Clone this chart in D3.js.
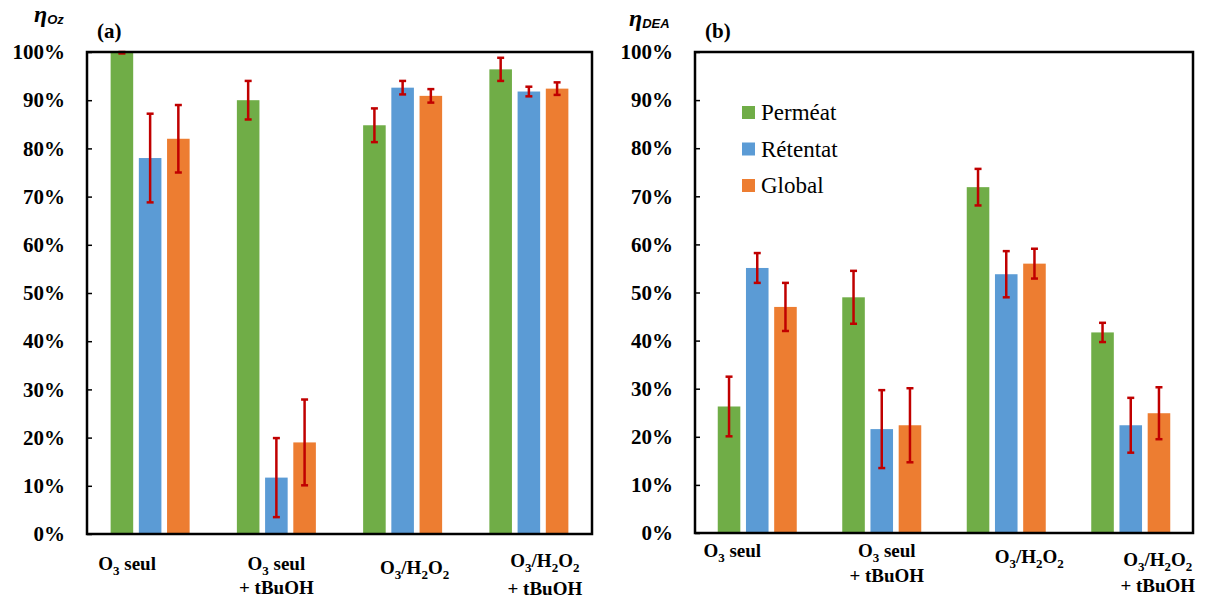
<!DOCTYPE html>
<html><head><meta charset="utf-8">
<script src="https://cdn.jsdelivr.net/npm/d3@7"></script>
<style>body{margin:0;background:#fff}svg{display:block}
.serif{font-family:"Liberation Serif","Times New Roman",Times,serif}
.sans{font-family:"Liberation Sans",Arial,sans-serif}
</style>
</head><body>
<svg id="chart" width="1205" height="601"></svg>
<script>
// ---- data ----
const categories = ["O3 seul", "O3 seul + tBuOH", "O3/H2O2", "O3/H2O2 + tBuOH"];
const categoryLabelLines = [["O_3 seul"], ["O_3 seul", "+ tBuOH"], ["O_3/H_2O_2"], ["O_3/H_2O_2", "+ tBuOH"]];
const seriesNames = ["Perméat", "Rétentat", "Global"];
const yTicks = [0, 10, 20, 30, 40, 50, 60, 70, 80, 90, 100];

// panel (a) eta_Oz (%)
const ozPermeat = [100, 90.0, 84.8, 96.4];
const ozRetentat = [78.0, 11.7, 92.6, 91.8];
const ozGlobal = [82.0, 19.0, 90.9, 92.4];
const ozPermeatErr = [0.3, 4.0, 3.5, 2.4];
const ozRetentatErr = [9.2, 8.2, 1.4, 1.0];
const ozGlobalErr = [7.0, 8.9, 1.4, 1.3];

// panel (b) eta_DEA (%)
const deaPermeat = [26.3, 49.0, 71.9, 41.7];
const deaRetentat = [55.1, 21.6, 53.8, 22.4];
const deaGlobal = [47.0, 22.4, 56.0, 24.9];
const deaPermeatErr = [6.2, 5.5, 3.8, 2.0];
const deaRetentatErr = [3.1, 8.1, 4.8, 5.7];
const deaGlobalErr = [5.0, 7.7, 3.1, 5.4];

// ---- style / layout ----
const colors = ["#70AD47", "#5B9BD5", "#ED7D31"];
const errColor = "#C00000";

const panels = [
  { key: "a", left: 87, right: 592, top: 52, bottom: 534,
    values: [ozPermeat, ozRetentat, ozGlobal], errs: [ozPermeatErr, ozRetentatErr, ozGlobalErr],
    tag: "(a)", tagX: 97, tagY: 38,
    etaX: 34, etaY: 22, sub: "Oz",
    labelDx: [-23, 0, 12, 16], labelY: [[570], [570, 594], [574], [567, 595]],
    legend: false },
  { key: "b", left: 695, right: 1193, top: 52, bottom: 533,
    values: [deaPermeat, deaRetentat, deaGlobal], errs: [deaPermeatErr, deaRetentatErr, deaGlobalErr],
    tag: "(b)", tagX: 705, tagY: 38,
    etaX: 629, etaY: 26, sub: "DEA",
    labelDx: [-25, 5, 23, 27], labelY: [[557], [557, 582], [563], [566, 592]],
    legend: true }
];

const svg = d3.select("#chart");

function addRich(textSel, str, subSize, shift) {
  // "_x" => subscript x
  const parts = str.split(/(_.)/).filter(s => s.length);
  let pending = 0;
  parts.forEach(p => {
    if (p[0] === "_") {
      textSel.append("tspan").attr("font-size", subSize).attr("dy", shift + pending).text(p[1]);
      pending = -shift;
    } else {
      textSel.append("tspan").attr("dy", pending).text(p);
      pending = 0;
    }
  });
}

panels.forEach(P => {
  const g = svg.append("g");
  const y = d3.scaleLinear().domain([0, 100]).range([P.bottom, P.top]);
  const x0 = d3.scaleBand().domain(categories).range([P.left, P.right]).padding(0);
  const x1 = d3.scaleBand().domain(seriesNames).range([-39.5, 39.5]).paddingInner(0.2).paddingOuter(0);

  // bars
  seriesNames.forEach((s, si) => {
    const rows = categories.map((c, ci) => ({ c, v: P.values[si][ci], e: P.errs[si][ci] }));
    g.append("g").selectAll("rect").data(rows).join("rect")
      .attr("x", d => x0(d.c) + x0.bandwidth() / 2 + x1(s))
      .attr("width", x1.bandwidth())
      .attr("y", d => y(d.v))
      .attr("height", d => y(0) - y(d.v))
      .attr("fill", colors[si]);
  });

  // error bars
  seriesNames.forEach((s, si) => {
    const rows = categories.map((c, ci) => ({ c, v: P.values[si][ci], e: P.errs[si][ci] }));
    const eg = g.append("g").attr("stroke", errColor).attr("stroke-width", 2.5);
    rows.forEach(d => {
      const cx = x0(d.c) + x0.bandwidth() / 2 + x1(s) + x1.bandwidth() / 2;
      const hi = Math.min(d.v + d.e, 100), lo = d.v - d.e;
      eg.append("line").attr("x1", cx).attr("x2", cx).attr("y1", y(hi)).attr("y2", y(lo));
      eg.append("line").attr("x1", cx - 3.5).attr("x2", cx + 3.5).attr("y1", y(hi)).attr("y2", y(hi));
      eg.append("line").attr("x1", cx - 3.5).attr("x2", cx + 3.5).attr("y1", y(lo)).attr("y2", y(lo));
    });
  });

  // frame
  g.append("rect").attr("x", P.left).attr("y", P.top)
    .attr("width", P.right - P.left).attr("height", P.bottom - P.top)
    .attr("fill", "none").attr("stroke", "#000").attr("stroke-width", 2.5);

  // y axis
  const yAxis = d3.axisLeft(y).tickValues(yTicks).tickFormat(d => d + "%")
    .tickSizeInner(-5).tickSizeOuter(0).tickPadding(22);
  const ag = g.append("g").attr("transform", `translate(${P.left},0)`).call(yAxis)
    .attr("font-family", null).attr("font-size", null);
  ag.select(".domain").remove();
  ag.selectAll(".tick line").attr("stroke", "#000").attr("stroke-width", 1.5);
  ag.selectAll(".tick text").attr("class", "serif").attr("font-weight", "bold")
    .attr("font-size", 21).attr("fill", "#000");

  // x labels
  categories.forEach((c, ci) => {
    const cx = x0(c) + x0.bandwidth() / 2 + P.labelDx[ci];
    categoryLabelLines[ci].forEach((line, li) => {
      const t = g.append("text").attr("class", "serif").attr("x", cx).attr("y", P.labelY[ci][li])
        .attr("text-anchor", "middle")
        .attr("font-weight", "bold").attr("font-size", 19).attr("fill", "#000");
      addRich(t, line, 13, 5);
    });
  });

  // panel tag
  g.append("text").attr("class", "serif").attr("x", P.tagX).attr("y", P.tagY)
    .attr("font-weight", "bold").attr("font-size", 21).text(P.tag);

  // eta title
  const et = g.append("text").attr("x", P.etaX).attr("y", P.etaY);
  et.append("tspan").attr("class", "serif").attr("font-style", "italic")
    .attr("font-weight", "bold").attr("font-size", 24).text("η");
  et.append("tspan").attr("class", "sans").attr("font-style", "italic")
    .attr("font-weight", "bold").attr("font-size", 13).attr("dy", 2).text(P.sub);

  // legend
  if (P.legend) {
    const lg = g.append("g");
    seriesNames.forEach((s, si) => {
      const yy = 106 + si * 36.5;
      lg.append("rect").attr("x", 742).attr("y", yy).attr("width", 13).attr("height", 13).attr("fill", colors[si]);
      lg.append("text").attr("class", "serif").attr("x", 761).attr("y", yy + 14)
        .attr("font-size", 23).attr("fill", "#000").text(s);
    });
  }
});
</script>
</body></html>
